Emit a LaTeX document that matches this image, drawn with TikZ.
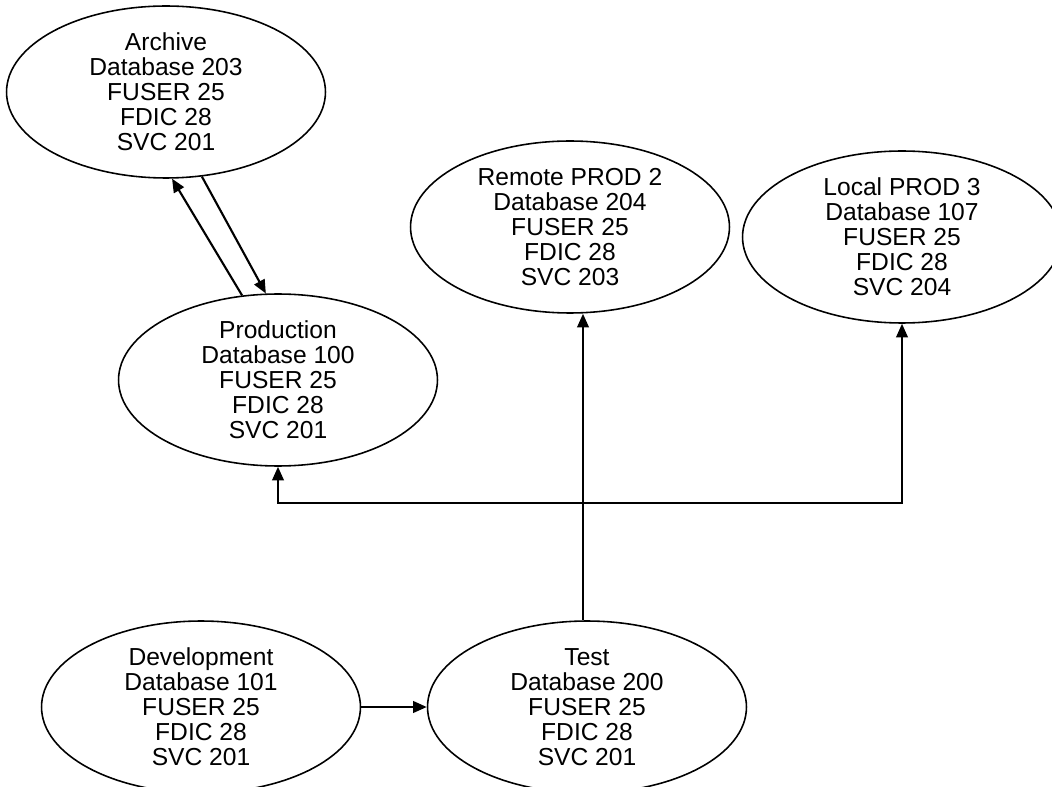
\documentclass[tikz,border=0pt]{standalone}
\usepackage{fontspec}
\setmainfont{Liberation Sans}
\usetikzlibrary{shapes.geometric,arrows.meta}

\begin{document}
\begin{tikzpicture}[x=0.02cm,y=-0.02cm,
  db/.style={draw,ellipse,line width=0.9pt,minimum width=6.38cm,minimum height=3.44cm,
    inner xsep=0pt,inner ysep=-2pt,align=center,font=\fontsize{14pt}{14.2pt}\selectfont},
  arr/.style={line width=1.2pt,-{Triangle[length=0.27cm,width=0.23cm]}}]
  \useasboundingbox (0,0) rectangle (1052,787);

  \node[db] (0) at (166,92) {Archive\\Database 203\\FUSER 25\\FDIC 28\\SVC 201};

  \node[db] (1) at (570,227) {Remote PROD 2\\Database 204\\FUSER 25\\FDIC 28\\SVC 203};
  \node[db] (2) at (902,237) {Local PROD 3\\Database 107\\FUSER 25\\FDIC 28\\SVC 204};

  \node[db] (3) at (278,380) {Production\\Database 100\\FUSER 25\\FDIC 28\\SVC 201};

  \node[db] (4) at (201,707) {Development\\Database 101\\FUSER 25\\FDIC 28\\SVC 201};
  \node[db] (5) at (587,707) {Test\\Database 200\\FUSER 25\\FDIC 28\\SVC 201};

  \coordinate (6) at (583,503);

  \draw[arr] (3.113) -- (0.274);
  \draw[arr] (0.293) -- (3.98);
  \draw[arr] (4) -- (5);
  \draw[arr] (6 |- 5.north) -- (6 |- 1.south);
  \draw[arr] (6) -| (3.south);
  \draw[arr] (6) -| (2.south);
\end{tikzpicture}
\end{document}
